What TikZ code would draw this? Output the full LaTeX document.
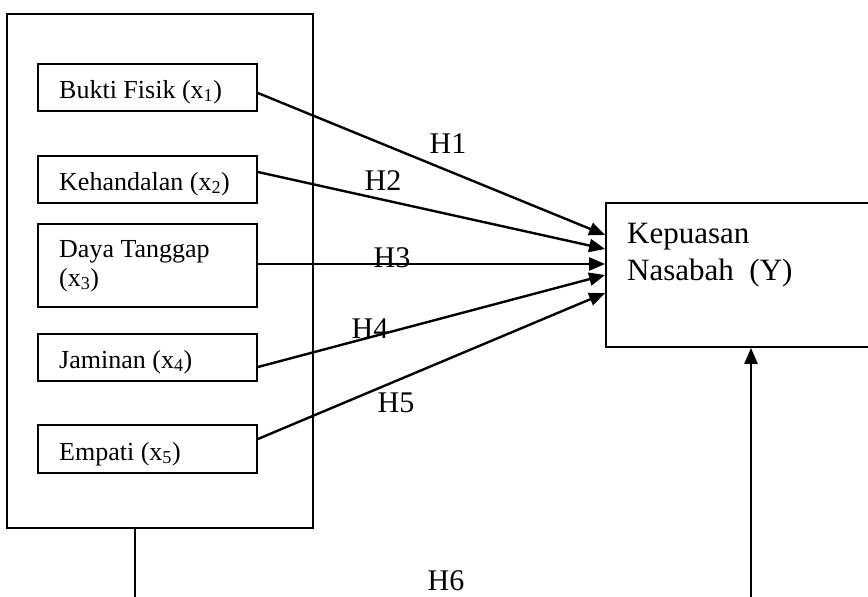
\documentclass[tikz,border=0pt]{standalone}
\usepackage{fontspec}
\setmainfont{Liberation Serif}
\usetikzlibrary{arrows.meta}
\begin{document}
\begin{tikzpicture}[x=1pt,y=-1pt,
  frame/.style={draw,line width=1.8pt,rectangle,inner sep=0pt},
  varbox/.style={frame,minimum width=219pt,minimum height=47pt},
  boxtext/.style={anchor=base west,inner sep=0pt,font=\fontsize{26}{29}\selectfont},
  hlabel/.style={anchor=base,inner sep=0pt,font=\fontsize{30}{33}\selectfont},
  ytext/.style={anchor=base west,inner sep=0pt,font=\fontsize{31}{36}\selectfont},
  arr/.style={line width=2.4pt,-{Triangle[length=16pt,width=13pt]}},
  conn/.style={line width=1.8pt}]
\useasboundingbox (0,0) rectangle (868,597);
% outer frame
\node[frame,minimum width=306pt,minimum height=514pt] (outer) at (160,271) {};
% variable boxes
\node[varbox] (b1) at (147.5,87.5) {};
\node[varbox,minimum height=83pt] (b3) at (147.5,265.5) {};
\node[varbox] (b2) at (147.5,179.5) {};
\node[varbox] (b4) at (147.5,357.5) {};
\node[varbox,minimum height=48pt] (b5) at (147.5,449) {};
\node[boxtext] (t1) at (59,98) {Bukti Fisik (x\textsubscript{1})};
\node[boxtext] (t2) at (59,190) {Kehandalan (x\textsubscript{2})};
\node[boxtext] (t3a) at (59,257) {Daya Tanggap};
\node[boxtext] (t3b) at (59,286) {(x\textsubscript{3})};
\node[boxtext] (t4) at (59,368) {Jaminan (x\textsubscript{4})};
\node[boxtext] (t5) at (59,460) {Empati (x\textsubscript{5})};
% dependent box
\node[frame,minimum width=274pt,minimum height=144pt] (Y) at (743,275) {};
\node[ytext] (ya) at (627,243) {Kepuasan};
\node[ytext] (yb) at (627,280) {Nasabah\ \ (Y)};
% arrows
\draw[arr] ([yshift=-5.5pt]b1.east) -- ([yshift=40pt]Y.west);
\draw[arr] ([yshift=7.5pt]b2.east) -- ([yshift=26pt]Y.west);
\draw[arr] ([yshift=1.5pt]b3.east) -- ([yshift=11pt]Y.west);
\draw[arr] ([yshift=-9.5pt]b4.east) -- ([yshift=0pt]Y.west);
\draw[arr] ([yshift=10pt]b5.east) -- ([yshift=-18pt]Y.west);
% labels
\node[hlabel] (h1) at (448,153) {H1};
\node[hlabel] (h2) at (383,190) {H2};
\node[hlabel] (h3) at (392,267) {H3};
\node[hlabel] (h4) at (370,338) {H4};
\node[hlabel] (h5) at (396,412) {H5};
\node[hlabel] (h6) at (446,590) {H6};
% bottom connector pieces
\coordinate (ob) at (135,597);
\coordinate (yb0) at (751,597);
\draw[conn] (ob |- outer.south) -- (ob);
\draw[arr] (yb0) -- (yb0 |- Y.south);
\end{tikzpicture}
\end{document}
